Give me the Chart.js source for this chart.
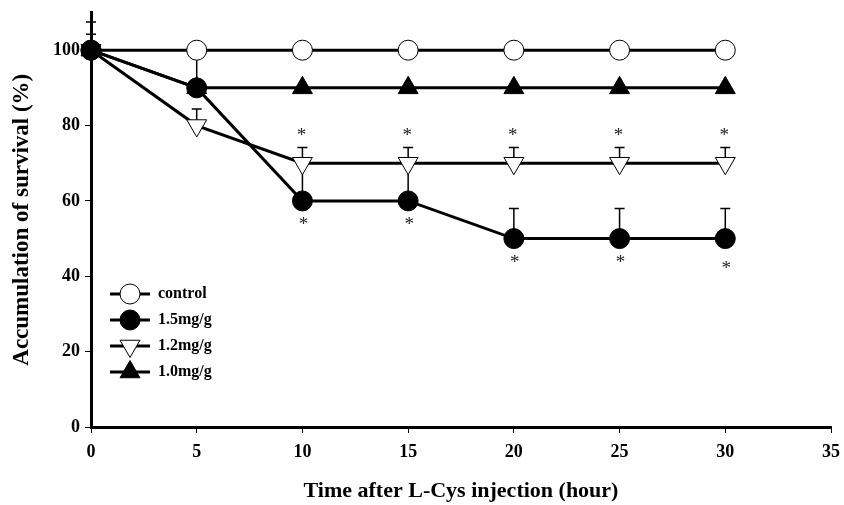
<!DOCTYPE html>
<html>
<head>
<meta charset="utf-8">
<script src="https://cdn.jsdelivr.net/npm/chart.js@4.4.1/dist/chart.umd.min.js"></script>
<style>
  html, body { margin: 0; padding: 0; background: #fff; }
  #wrap { width: 844px; height: 505px; }
</style>
</head>
<body>
<div id="wrap"><canvas id="survivalChart" width="844" height="505"></canvas></div>
<script>
let horas = [0, 5, 10, 15, 20, 25, 30];
let xTicks = [0, 5, 10, 15, 20, 25, 30, 35];
let yTicks = [0, 20, 40, 60, 80, 100];

let controle = [100, 100, 100, 100, 100, 100, 100];
let dose15 = [100, 90, 60, 60, 50, 50, 50];
let dose12 = [100, 80, 70, 70, 70, 70, 70];
let dose10 = [100, 90, 90, 90, 90, 90, 90];

// upper error (SD)
let erro15 = [7.5, 8, 10, 10, 8, 8, 8];
let erro12 = [4.2, 4.4, 4.2, 4.2, 4.2, 4.2, 4.2];

// significance marks: 1 = asterisk
let estrela15 = [0, 0, 1, 1, 1, 1, 1];
let estrela12 = [0, 0, 1, 1, 1, 1, 1];

let rotulos = ["control", "1.5mg/g", "1.2mg/g", "1.0mg/g"];

let fonte = "'Liberation Serif', 'Times New Roman', serif";
let ctx = document.getElementById("survivalChart").getContext("2d");

function pontos(valores) {
  return horas.map((h, i) => ({ x: h, y: valores[i] }));
}

let barrasErro = {
  id: "barrasErro",
  beforeDatasetsDraw(chart) {
    let c = chart.ctx;
    let sx = chart.scales.x;
    let sy = chart.scales.y;
    c.save();
    c.strokeStyle = "#000";
    c.lineWidth = 1.5;
    [[dose15, erro15], [dose12, erro12]].forEach(([vals, errs]) => {
      vals.forEach((v, i) => {
        let px = sx.getPixelForValue(horas[i]);
        let y0 = sy.getPixelForValue(v);
        let y1 = sy.getPixelForValue(v + errs[i]);
        c.beginPath();
        c.moveTo(px, y0);
        c.lineTo(px, y1);
        c.moveTo(px - 5, y1);
        c.lineTo(px + 5, y1);
        c.stroke();
      });
    });
    c.restore();
  },
  afterDatasetsDraw(chart) {
    let c = chart.ctx;
    let sx = chart.scales.x;
    let sy = chart.scales.y;
    c.save();
    c.fillStyle = "#222";
    c.font = "19px " + fonte;
    c.textAlign = "center";
    c.textBaseline = "middle";
    estrela12.forEach((s, i) => {
      if (!s) return;
      let px = sx.getPixelForValue(horas[i]);
      let py = sy.getPixelForValue(dose12[i] + erro12[i]);
      c.fillText("*", px - 1, py - 11);
    });
    estrela15.forEach((s, i) => {
      if (!s) return;
      let px = sx.getPixelForValue(horas[i]);
      let py = sy.getPixelForValue(dose15[i]);
      let extra = i === 6 ? 6 : 0;
      c.fillText("*", px + 1, py + 24 + extra);
    });

    // legenda dentro da area do grafico
    let ds = chart.data.datasets;
    let x0 = 110;
    let y0 = 294;
    ds.forEach((d, i) => {
      let y = y0 + i * 26;
      c.strokeStyle = "#000";
      c.lineWidth = 3;
      c.beginPath();
      c.moveTo(x0, y);
      c.lineTo(x0 + 40, y);
      c.stroke();
      c.fillStyle = d.pointBackgroundColor;
      c.lineWidth = d.pointBorderWidth;
      Chart.helpers.drawPoint(c, {
        pointStyle: d.pointStyle,
        rotation: d.pointRotation || 0,
        radius: d.pointRadius,
        borderWidth: d.pointBorderWidth
      }, x0 + 20, y);
      c.fillStyle = "#000";
      c.font = "bold 16px " + fonte;
      c.textAlign = "left";
      c.fillText(d.label, x0 + 48, y);
    });
    c.restore();
  }
};

let estilos = [
  { style: "circle", rot: 0, r: 10, fill: "#fff" },
  { style: "circle", rot: 0, r: 10, fill: "#000" },
  { style: "triangle", rot: 180, r: 11.5, fill: "#fff" },
  { style: "triangle", rot: 0, r: 11.5, fill: "#000" }
];

let series = [controle, dose15, dose12, dose10];
let ordem = [4, 1, 3, 2];

let conjuntos = series.map((s, i) => ({
  label: rotulos[i],
  data: pontos(s),
  order: ordem[i],
  borderColor: "#000",
  borderWidth: 3,
  backgroundColor: estilos[i].fill,
  pointBackgroundColor: estilos[i].fill,
  pointBorderColor: "#000",
  pointBorderWidth: 1,
  pointStyle: estilos[i].style,
  pointRotation: estilos[i].rot,
  pointRadius: estilos[i].r,
  pointHoverRadius: estilos[i].r,
  tension: 0,
  clip: false
}));

let myChart = new Chart(ctx, {
  type: "line",
  data: { datasets: conjuntos },
  plugins: [barrasErro],
  options: {
    responsive: false,
    animation: false,
    layout: { padding: { top: 11, right: 13, left: 0, bottom: 0 } },
    plugins: {
      legend: { display: false },
      tooltip: { enabled: false }
    },
    scales: {
      x: {
        type: "linear",
        min: 0,
        max: 35,
        afterBuildTicks: (s) => { s.ticks = xTicks.map(v => ({ value: v })); },
        afterFit: (s) => { s.height = 78; s.paddingLeft = 0; s.paddingRight = 0; },
        grid: { drawOnChartArea: false, tickLength: 6, tickColor: "#000", tickWidth: 1 },
        border: { display: true, color: "#000", width: 3 },
        ticks: { color: "#000", padding: 9, maxRotation: 0, font: { family: fonte, size: 18, weight: "bold" } },
        title: {
          display: true,
          text: "Time after L-Cys injection (hour)",
          color: "#000",
          padding: { top: 0, bottom: 0 },
          font: { family: fonte, size: 22, weight: "bold" }
        }
      },
      y: {
        min: 0,
        max: 110,
        afterBuildTicks: (s) => { s.ticks = yTicks.map(v => ({ value: v })); },
        afterFit: (s) => { s.width = 91; s.paddingTop = 0; s.paddingBottom = 0; },
        grid: { drawOnChartArea: false, tickLength: 6, tickColor: "#000", tickWidth: 1 },
        border: { display: true, color: "#000", width: 3 },
        ticks: { color: "#000", padding: 5, font: { family: fonte, size: 18, weight: "bold" } },
        title: {
          display: true,
          text: "Accumulation of survival (%)",
          color: "#000",
          padding: { top: 8, bottom: 0 },
          font: { family: fonte, size: 23, weight: "bold" }
        }
      }
    }
  }
});
</script>
</body>
</html>
